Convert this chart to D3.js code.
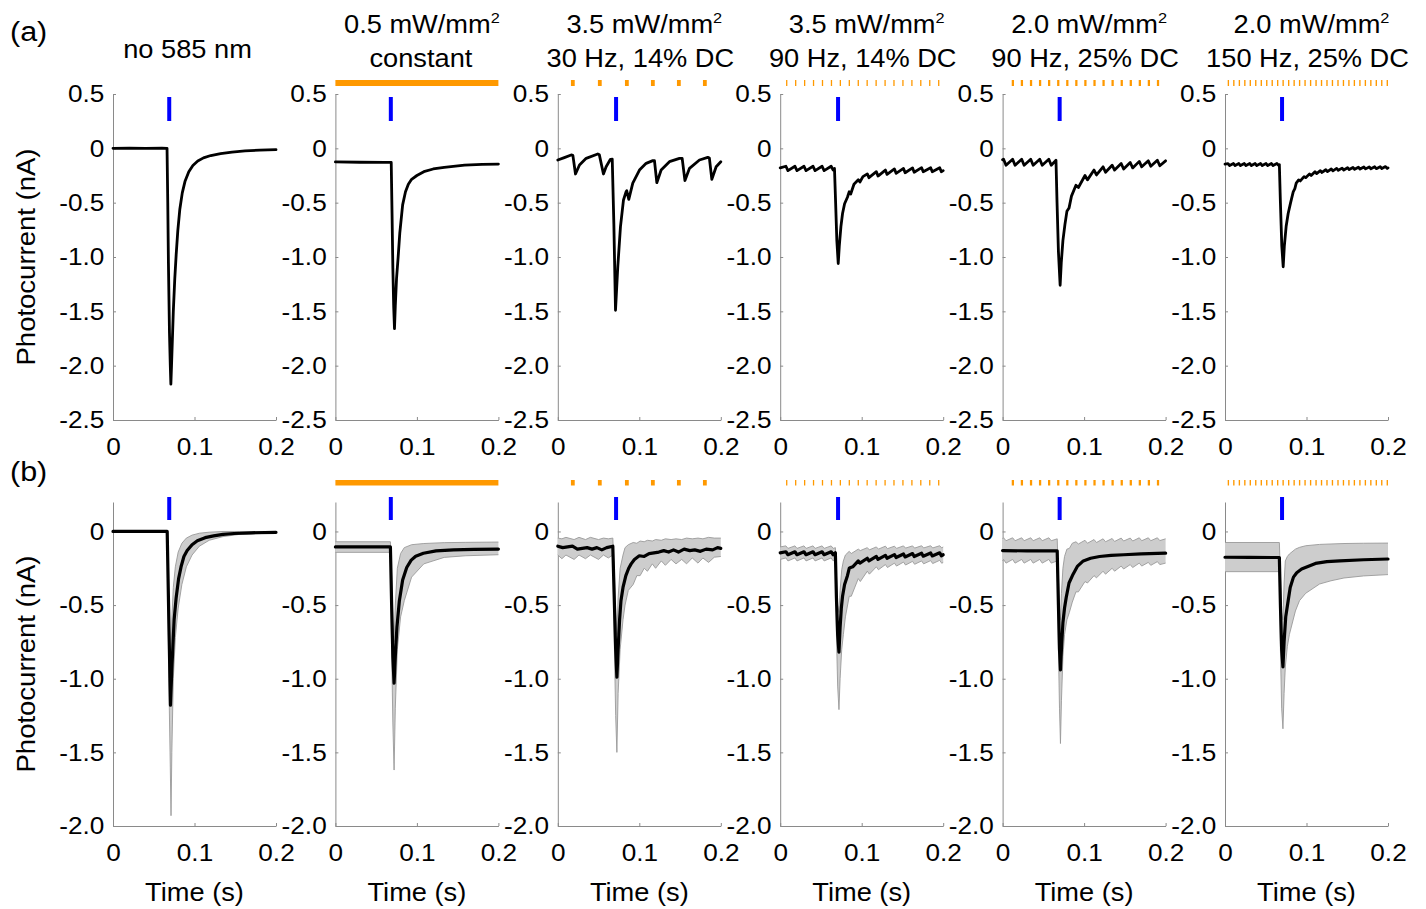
<!DOCTYPE html>
<html><head><meta charset="utf-8">
<script src="https://cdn.jsdelivr.net/npm/d3@7"></script>
<style>body{margin:0;background:#fff} text{font-family:"Liberation Sans",Arial,sans-serif;fill:#000}</style>
</head><body><svg id="c" width="1426" height="909"></svg>
<script>
// ---------------- DATA ----------------
const titleLine1 = ["no 585 nm", "0.5 mW/mm", "3.5 mW/mm", "3.5 mW/mm", "2.0 mW/mm", "2.0 mW/mm"];
const titleSup   = ["", "2", "2", "2", "2", "2"];
const titleLine2 = ["", "constant", "30 Hz, 14% DC", "90 Hz, 14% DC", "90 Hz, 25% DC", "150 Hz, 25% DC"];
const xTicks = [0, 0.1, 0.2];
const xTickLabels = ["0", "0.1", "0.2"];
const topYTicks = [0.5, 0, -0.5, -1, -1.5, -2, -2.5];
const topYLabels = ["0.5", "0", "-0.5", "-1.0", "-1.5", "-2.0", "-2.5"];
const botYTicks = [0, -0.5, -1, -1.5, -2];
const botYLabels = ["0", "-0.5", "-1.0", "-1.5", "-2.0"];
const blueCenter = [0.069, 0.068, 0.0715, 0.0710, 0.0700, 0.0700];
const blueDur = 0.0049;
// orange light: constant [start,end] or pulse starts (s) and pulse duration (s)
const orangeConst = [null, [0, 0.2], null, null, null, null];
const pulses30 = [0.0161, 0.0492, 0.0824, 0.1143, 0.1462, 0.1781];
const pulses90a = [0.0072, 0.0182, 0.0292, 0.0401, 0.0511, 0.0621, 0.0730, 0.0840, 0.0950, 0.1059, 0.1169, 0.1279, 0.1388, 0.1498, 0.1608, 0.1717, 0.1827, 0.1937];
const pulses90b = [0.0112, 0.0223, 0.0335, 0.0446, 0.0557, 0.0669, 0.0780, 0.0891, 0.1002, 0.1114, 0.1225, 0.1336, 0.1448, 0.1559, 0.1670, 0.1781, 0.1893];
const pulses150 = [0.0033, 0.0100, 0.0168, 0.0235, 0.0302, 0.0369, 0.0437, 0.0504, 0.0571, 0.0638, 0.0705, 0.0773, 0.0840, 0.0907, 0.0974, 0.1042, 0.1109, 0.1176, 0.1243, 0.1310, 0.1378, 0.1445, 0.1512, 0.1579, 0.1647, 0.1714, 0.1781, 0.1848, 0.1915, 0.1983];
const orangePulses = [null, null, pulses30, pulses90a, pulses90b, pulses150];
const pulseDur = [0, 0, 0.00467, 0.00156, 0.00278, 0.00167];

// (a) single traces [t (s), current (nA)]
const traceA1 = [[0,0],[0.02,0.002],[0.04,0],[0.06,0.002],[0.0663,0],[0.0672,-0.5],[0.068,-1.05],[0.0693,-1.7],[0.0703,-2.0],[0.071,-2.17],[0.0718,-2.0],[0.074,-1.5],[0.0758,-1.2],[0.0775,-0.98],[0.0795,-0.76],[0.082,-0.56],[0.085,-0.41],[0.0885,-0.3],[0.093,-0.215],[0.098,-0.158],[0.104,-0.117],[0.111,-0.088],[0.12,-0.066],[0.132,-0.048],[0.146,-0.034],[0.162,-0.024],[0.18,-0.016],[0.2,-0.012]];
const traceA2 = [[0,-0.125],[0.03,-0.128],[0.06,-0.13],[0.0685,-0.13],[0.0695,-0.6],[0.0705,-1.1],[0.0715,-1.45],[0.0725,-1.66],[0.0735,-1.45],[0.075,-1.2],[0.077,-1.0],[0.079,-0.78],[0.0825,-0.52],[0.086,-0.4],[0.0895,-0.33],[0.0935,-0.285],[0.1,-0.25],[0.1085,-0.215],[0.12,-0.19],[0.1335,-0.175],[0.1585,-0.155],[0.18,-0.148],[0.2,-0.145]];
const traceA3 = [[0,-0.107],[0.008,-0.085],[0.0164,-0.061],[0.0185,-0.065],[0.0217,-0.236],[0.0266,-0.153],[0.0348,-0.092],[0.049,-0.052],[0.051,-0.06],[0.056,-0.236],[0.0593,-0.169],[0.0646,-0.101],[0.0668,-0.1],[0.0688,-0.7],[0.0708,-1.49],[0.0736,-1.09],[0.0769,-0.72],[0.0806,-0.475],[0.0838,-0.4],[0.0846,-0.39],[0.0871,-0.47],[0.092,-0.32],[0.1002,-0.2],[0.1084,-0.138],[0.1166,-0.113],[0.1186,-0.113],[0.1215,-0.316],[0.1268,-0.2],[0.137,-0.123],[0.1493,-0.092],[0.1526,-0.092],[0.156,-0.297],[0.1616,-0.184],[0.1738,-0.107],[0.184,-0.083],[0.186,-0.09],[0.189,-0.285],[0.1943,-0.169],[0.2,-0.123]];
const traceA4 = [[0,-0.18],[0.007,-0.165],[0.0095,-0.205],[0.0181,-0.165],[0.0206,-0.205],[0.0292,-0.165],[0.0317,-0.205],[0.0403,-0.165],[0.0428,-0.205],[0.0514,-0.165],[0.0539,-0.205],[0.0625,-0.165],[0.065,-0.2],[0.0666,-0.185],[0.068,-0.5],[0.0695,-0.85],[0.0712,-1.06],[0.0725,-0.9],[0.0745,-0.72],[0.0765,-0.6],[0.079,-0.51],[0.0825,-0.45],[0.0847,-0.4],[0.0865,-0.42],[0.0905,-0.33],[0.0958,-0.29],[0.0978,-0.31],[0.1015,-0.26],[0.1069,-0.235],[0.1089,-0.27],[0.118,-0.215],[0.12,-0.255],[0.1291,-0.2],[0.1311,-0.24],[0.1402,-0.19],[0.1422,-0.23],[0.1513,-0.185],[0.1533,-0.225],[0.1624,-0.18],[0.1644,-0.22],[0.1735,-0.178],[0.1755,-0.215],[0.1846,-0.178],[0.1866,-0.215],[0.1957,-0.178],[0.1977,-0.215],[0.2,-0.205]];
const traceA5 = [[0,-0.105],[0.0012,-0.1],[0.0042,-0.155],[0.0123,-0.1],[0.0153,-0.155],[0.0234,-0.1],[0.0264,-0.155],[0.0345,-0.1],[0.0375,-0.155],[0.0456,-0.1],[0.0486,-0.155],[0.0567,-0.1],[0.0597,-0.155],[0.0655,-0.11],[0.0668,-0.5],[0.0685,-0.95],[0.0706,-1.26],[0.072,-1.05],[0.074,-0.85],[0.0765,-0.7],[0.0789,-0.58],[0.0815,-0.55],[0.0845,-0.44],[0.09,-0.34],[0.093,-0.36],[0.1011,-0.25],[0.1041,-0.29],[0.1122,-0.2],[0.1152,-0.245],[0.1233,-0.17],[0.1263,-0.22],[0.1344,-0.155],[0.1374,-0.2],[0.1455,-0.14],[0.1485,-0.19],[0.1566,-0.13],[0.1596,-0.18],[0.1677,-0.12],[0.1707,-0.17],[0.1788,-0.115],[0.1818,-0.165],[0.1899,-0.11],[0.1929,-0.16],[0.2,-0.115]];
const traceA6 = [[0,-0.145],[0.0037,-0.14],[0.0057,-0.158],[0.0104,-0.14],[0.0124,-0.158],[0.017,-0.14],[0.019,-0.158],[0.0237,-0.14],[0.0257,-0.158],[0.0304,-0.14],[0.0324,-0.158],[0.037,-0.14],[0.039,-0.158],[0.0437,-0.14],[0.0457,-0.158],[0.0504,-0.14],[0.0524,-0.158],[0.057,-0.14],[0.059,-0.158],[0.0637,-0.14],[0.0657,-0.155],[0.0667,-0.15],[0.068,-0.5],[0.0697,-0.9],[0.0714,-1.09],[0.0728,-0.9],[0.075,-0.72],[0.0775,-0.6],[0.0805,-0.5],[0.0837,-0.4],[0.0857,-0.37],[0.0874,-0.32],[0.0904,-0.29],[0.0924,-0.3],[0.097,-0.26],[0.099,-0.27],[0.1037,-0.235],[0.1057,-0.25],[0.1104,-0.215],[0.1124,-0.232],[0.117,-0.205],[0.119,-0.222],[0.1237,-0.197],[0.1257,-0.214],[0.1304,-0.19],[0.1324,-0.207],[0.137,-0.185],[0.139,-0.202],[0.1437,-0.182],[0.1457,-0.199],[0.1504,-0.178],[0.1524,-0.195],[0.157,-0.176],[0.159,-0.193],[0.1637,-0.174],[0.1657,-0.191],[0.1704,-0.172],[0.1724,-0.189],[0.177,-0.171],[0.179,-0.188],[0.1837,-0.17],[0.1857,-0.187],[0.1904,-0.169],[0.1924,-0.186],[0.197,-0.168],[0.199,-0.185],[0.2,-0.18]];

// (b) mean traces [t, mean] and bands [t, lower, upper]
const meanB1 = [[0,0],[0.0665,0],[0.0685,-0.6],[0.0705,-1.18],[0.0725,-0.9],[0.075,-0.6],[0.0775,-0.45],[0.0805,-0.32],[0.0835,-0.24],[0.087,-0.17],[0.091,-0.13],[0.097,-0.09],[0.1035,-0.063],[0.113,-0.042],[0.1235,-0.03],[0.135,-0.02],[0.1485,-0.014],[0.17,-0.009],[0.2,-0.006]];
const bandB1 = [[0,-0.005,0.005],[0.0665,-0.005,0.005],[0.0685,-1.0,-0.5],[0.0703,-1.6,-0.85],[0.0712,-1.93,-0.95],[0.0722,-1.5,-0.6],[0.074,-1.0,-0.38],[0.0765,-0.72,-0.24],[0.08,-0.52,-0.14],[0.0845,-0.36,-0.08],[0.09,-0.24,-0.045],[0.097,-0.16,-0.025],[0.106,-0.1,-0.012],[0.118,-0.06,-0.005],[0.135,-0.035,0],[0.155,-0.02,0],[0.2,-0.01,0]];
const meanB2 = [[0,-0.105],[0.03,-0.105],[0.0675,-0.105],[0.069,-0.5],[0.0705,-0.85],[0.072,-1.03],[0.0735,-0.85],[0.0755,-0.65],[0.0785,-0.47],[0.0825,-0.33],[0.0875,-0.245],[0.093,-0.195],[0.0985,-0.168],[0.108,-0.148],[0.1235,-0.132],[0.145,-0.125],[0.17,-0.122],[0.2,-0.12]];
const bandB2 = [[0,-0.142,-0.07],[0.0675,-0.142,-0.07],[0.069,-0.8,-0.3],[0.0705,-1.3,-0.6],[0.072,-1.62,-0.75],[0.0735,-1.2,-0.5],[0.076,-0.8,-0.25],[0.08,-0.58,-0.15],[0.0845,-0.47,-0.11],[0.0935,-0.31,-0.09],[0.1085,-0.22,-0.082],[0.1335,-0.176,-0.076],[0.16,-0.165,-0.074],[0.2,-0.158,-0.072]];
const meanB3 = [[0,-0.1],[0.006,-0.11],[0.012,-0.105],[0.018,-0.1],[0.024,-0.12],[0.03,-0.115],[0.036,-0.11],[0.042,-0.12],[0.048,-0.11],[0.054,-0.125],[0.06,-0.11],[0.0675,-0.1],[0.0695,-0.5],[0.071,-0.8],[0.0725,-0.99],[0.074,-0.8],[0.0758,-0.6],[0.0775,-0.47],[0.08,-0.38],[0.0835,-0.3],[0.087,-0.25],[0.09,-0.22],[0.094,-0.19],[0.1,-0.165],[0.106,-0.17],[0.112,-0.15],[0.118,-0.145],[0.124,-0.14],[0.13,-0.13],[0.136,-0.14],[0.142,-0.125],[0.148,-0.14],[0.155,-0.12],[0.162,-0.13],[0.168,-0.125],[0.175,-0.135],[0.182,-0.12],[0.19,-0.125],[0.196,-0.11],[0.2,-0.115]];
const bandB3 = [[0,-0.16,-0.045],[0.005,-0.185,-0.05],[0.01,-0.16,-0.04],[0.02,-0.19,-0.055],[0.026,-0.16,-0.04],[0.034,-0.185,-0.055],[0.04,-0.16,-0.04],[0.05,-0.19,-0.055],[0.056,-0.16,-0.045],[0.062,-0.18,-0.05],[0.0675,-0.16,-0.045],[0.0695,-0.8,-0.3],[0.071,-1.25,-0.55],[0.0725,-1.5,-0.7],[0.074,-1.1,-0.45],[0.0765,-0.8,-0.25],[0.08,-0.6,-0.16],[0.0825,-0.5,-0.11],[0.0865,-0.4,-0.09],[0.0925,-0.36,-0.075],[0.097,-0.3,-0.08],[0.101,-0.3,-0.065],[0.106,-0.25,-0.07],[0.11,-0.27,-0.06],[0.116,-0.22,-0.065],[0.12,-0.25,-0.055],[0.127,-0.2,-0.06],[0.132,-0.23,-0.05],[0.139,-0.19,-0.055],[0.145,-0.22,-0.05],[0.152,-0.19,-0.055],[0.158,-0.22,-0.045],[0.165,-0.18,-0.05],[0.172,-0.215,-0.045],[0.178,-0.18,-0.05],[0.185,-0.21,-0.04],[0.192,-0.175,-0.045],[0.2,-0.17,-0.045]];
const meanB4 = [[0,-0.145],[0.007,-0.138],[0.0095,-0.158],[0.0181,-0.138],[0.0206,-0.158],[0.0292,-0.138],[0.0317,-0.158],[0.0403,-0.138],[0.0428,-0.158],[0.0514,-0.138],[0.0539,-0.158],[0.0625,-0.138],[0.065,-0.158],[0.0677,-0.145],[0.069,-0.45],[0.0705,-0.7],[0.0721,-0.82],[0.0735,-0.65],[0.075,-0.52],[0.0765,-0.44],[0.079,-0.36],[0.0825,-0.3],[0.0847,-0.25],[0.0865,-0.245],[0.089,-0.24],[0.0958,-0.2],[0.0978,-0.215],[0.1069,-0.182],[0.1089,-0.2],[0.118,-0.17],[0.12,-0.19],[0.1291,-0.162],[0.1311,-0.182],[0.1402,-0.157],[0.1422,-0.177],[0.1513,-0.153],[0.1533,-0.173],[0.1624,-0.15],[0.1644,-0.17],[0.1735,-0.148],[0.1755,-0.168],[0.1846,-0.146],[0.1866,-0.166],[0.1957,-0.145],[0.1977,-0.165],[0.2,-0.158]];
const bandB4 = [[0,-0.19,-0.105],[0.007,-0.18,-0.098],[0.0095,-0.2,-0.115],[0.0181,-0.18,-0.098],[0.0206,-0.2,-0.115],[0.0292,-0.18,-0.098],[0.0317,-0.2,-0.115],[0.0403,-0.18,-0.098],[0.0428,-0.2,-0.115],[0.0514,-0.18,-0.098],[0.0539,-0.2,-0.115],[0.0625,-0.18,-0.098],[0.065,-0.2,-0.115],[0.0677,-0.19,-0.11],[0.069,-0.7,-0.3],[0.0705,-1.05,-0.5],[0.0721,-1.21,-0.55],[0.0735,-1.0,-0.4],[0.0755,-0.8,-0.26],[0.0775,-0.7,-0.2],[0.08,-0.58,-0.16],[0.0847,-0.44,-0.135],[0.0872,-0.44,-0.15],[0.0958,-0.32,-0.12],[0.0983,-0.34,-0.13],[0.1069,-0.27,-0.11],[0.1094,-0.29,-0.125],[0.118,-0.24,-0.105],[0.1205,-0.26,-0.12],[0.1291,-0.225,-0.1],[0.1316,-0.245,-0.117],[0.1402,-0.215,-0.1],[0.1427,-0.235,-0.115],[0.1513,-0.208,-0.098],[0.1538,-0.228,-0.113],[0.1624,-0.203,-0.098],[0.1649,-0.223,-0.113],[0.1735,-0.2,-0.097],[0.176,-0.22,-0.112],[0.1846,-0.198,-0.097],[0.1871,-0.218,-0.112],[0.1957,-0.196,-0.097],[0.1982,-0.216,-0.112],[0.2,-0.21,-0.105]];
const meanB5 = [[0,-0.13],[0.03,-0.132],[0.06,-0.132],[0.067,-0.132],[0.0685,-0.5],[0.0698,-0.8],[0.071,-0.94],[0.0722,-0.8],[0.074,-0.62],[0.076,-0.52],[0.078,-0.45],[0.0815,-0.35],[0.0865,-0.29],[0.092,-0.235],[0.099,-0.2],[0.108,-0.182],[0.119,-0.17],[0.133,-0.163],[0.1485,-0.158],[0.17,-0.152],[0.2,-0.147]];
const bandB5 = [[0,-0.2,-0.05],[0.0012,-0.19,-0.043],[0.0042,-0.215,-0.063],[0.0123,-0.19,-0.043],[0.0153,-0.215,-0.063],[0.0234,-0.19,-0.043],[0.0264,-0.215,-0.063],[0.0345,-0.19,-0.043],[0.0375,-0.215,-0.063],[0.0456,-0.19,-0.043],[0.0486,-0.215,-0.063],[0.0567,-0.19,-0.043],[0.0597,-0.215,-0.063],[0.067,-0.2,-0.05],[0.0685,-0.8,-0.3],[0.0698,-1.2,-0.55],[0.071,-1.44,-0.6],[0.0722,-1.15,-0.42],[0.074,-0.85,-0.25],[0.076,-0.7,-0.17],[0.0789,-0.6,-0.12],[0.0819,-0.55,-0.115],[0.0855,-0.48,-0.08],[0.09,-0.41,-0.07],[0.093,-0.41,-0.085],[0.1011,-0.34,-0.06],[0.1041,-0.35,-0.08],[0.1122,-0.3,-0.055],[0.1152,-0.315,-0.075],[0.1233,-0.27,-0.05],[0.1263,-0.29,-0.07],[0.1344,-0.25,-0.048],[0.1374,-0.27,-0.068],[0.1455,-0.235,-0.045],[0.1485,-0.255,-0.065],[0.1566,-0.225,-0.045],[0.1596,-0.245,-0.065],[0.1677,-0.215,-0.043],[0.1707,-0.235,-0.063],[0.1788,-0.21,-0.043],[0.1818,-0.23,-0.063],[0.1899,-0.205,-0.043],[0.1929,-0.225,-0.062],[0.2,-0.215,-0.05]];
const meanB6 = [[0,-0.175],[0.03,-0.176],[0.0667,-0.177],[0.068,-0.5],[0.0695,-0.8],[0.0711,-0.92],[0.0725,-0.75],[0.0745,-0.58],[0.0775,-0.47],[0.08,-0.38],[0.084,-0.31],[0.088,-0.28],[0.094,-0.255],[0.111,-0.217],[0.125,-0.205],[0.141,-0.2],[0.17,-0.192],[0.2,-0.187]];
const bandB6 = [[0,-0.273,-0.075],[0.0667,-0.273,-0.075],[0.068,-0.8,-0.3],[0.0695,-1.2,-0.55],[0.0711,-1.34,-0.6],[0.0725,-1.1,-0.35],[0.074,-0.92,-0.2],[0.0765,-0.78,-0.17],[0.079,-0.7,-0.153],[0.0864,-0.54,-0.12],[0.0914,-0.47,-0.108],[0.099,-0.42,-0.097],[0.116,-0.357,-0.088],[0.13,-0.335,-0.085],[0.146,-0.316,-0.082],[0.17,-0.302,-0.08],[0.2,-0.293,-0.079]];

const tracesA = [traceA1, traceA2, traceA3, traceA4, traceA5, traceA6];
const meansB = [meanB1, meanB2, meanB3, meanB4, meanB5, meanB6];
const bandsB = [bandB1, bandB2, bandB3, bandB4, bandB5, bandB6];

// ---------------- DRAWING ----------------
const svg = d3.select("#c");
const SX = 1.09;            // horizontal text stretch of the original figure
const AX = "#8a8a8a";
const ORANGE = "#ff9900", BLUE = "#0000ff";
const panelW = 163;
const left = i => 113 + i * 222.4;

const rows = [
  {top: 94, bottom: 420, domain: [-2.5, 0.5], ticks: topYTicks, labels: topYLabels,
   blue: [3, 27], orange: [-14, -8], lines: tracesA, lw: 2.8},
  {top: 502, bottom: 826, domain: [-2, 0.2], ticks: botYTicks, labels: botYLabels,
   blue: [-5, 18], orange: [-22, -16.5], lines: meansB, bands: bandsB, lw: 3.2}
];

rows.forEach((row, r) => {
  for (let i = 0; i < 6; i++) {
    const L = left(i);
    const x = d3.scaleLinear().domain([0, 0.2]).range([L, L + panelW]);
    const y = d3.scaleLinear().domain(row.domain).range([row.bottom, row.top]);
    const g = svg.append("g");

    // axes
    const ay = g.append("g").attr("transform", `translate(${L},0)`)
      .call(d3.axisLeft(y).tickValues(row.ticks).tickFormat((d, k) => row.labels[k])
        .tickSizeInner(-3).tickSizeOuter(0).tickPadding(8));
    const ax = g.append("g").attr("transform", `translate(0,${row.bottom})`)
      .call(d3.axisBottom(x).tickValues(xTicks).tickFormat((d, k) => xTickLabels[k])
        .tickSizeInner(-3).tickSizeOuter(0).tickPadding(18));
    [ay, ax].forEach(a => {
      a.select(".domain").attr("stroke", AX);
      a.selectAll(".tick line").attr("stroke", AX);
      a.selectAll("text").attr("font-size", 24).attr("fill", "#000")
        .attr("font-family", '"Liberation Sans", Arial, sans-serif')
        .attr("transform", `scale(${SX},1)`);
    });

    // band
    if (row.bands) {
      const b = row.bands[i];
      g.append("path").datum(b)
        .attr("d", d3.area().x(d => x(d[0])).y0(d => y(d[1])).y1(d => y(d[2])))
        .attr("fill", "#cdcdcd").attr("stroke", "none");
      [1, 2].forEach(k => g.append("path").datum(b)
        .attr("d", d3.line().x(d => x(d[0])).y(d => y(d[k])))
        .attr("fill", "none").attr("stroke", "#9a9a9a").attr("stroke-width", 0.9));
    }
    // trace
    g.append("path").datum(row.lines[i])
      .attr("d", d3.line().x(d => x(d[0])).y(d => y(d[1])))
      .attr("fill", "none").attr("stroke", "#000").attr("stroke-width", row.lw)
      .attr("stroke-linejoin", "round").attr("stroke-linecap", "round");

    // blue stimulus
    g.append("rect")
      .attr("x", x(blueCenter[i] - blueDur / 2)).attr("width", x(blueDur) - x(0))
      .attr("y", row.top + row.blue[0]).attr("height", row.blue[1] - row.blue[0])
      .attr("fill", BLUE);

    // orange light
    const oy = row.top + row.orange[0], oh = row.orange[1] - row.orange[0];
    if (orangeConst[i]) {
      g.append("rect").attr("x", x(orangeConst[i][0])).attr("width", x(orangeConst[i][1]) - x(orangeConst[i][0]))
        .attr("y", oy).attr("height", oh).attr("fill", ORANGE);
    }
    if (orangePulses[i]) {
      g.selectAll(null).data(orangePulses[i]).join("rect")
        .attr("x", d => x(d)).attr("width", Math.max(x(pulseDur[i]) - x(0), 1.3))
        .attr("y", oy).attr("height", oh).attr("fill", ORANGE);
    }

    // titles (top row only)
    if (r === 0) {
      const cx = L + panelW / 2;
      if (titleLine2[i] === "") {
        svg.append("text").attr("transform", `translate(${cx - 7},58) scale(${SX},1)`)
          .attr("text-anchor", "middle").attr("font-size", 25).text(titleLine1[i]);
      } else {
        const t1 = svg.append("text").attr("transform", `translate(${cx + 5},33) scale(${SX},1)`)
          .attr("text-anchor", "middle").attr("font-size", 25);
        t1.append("tspan").text(titleLine1[i]);
        t1.append("tspan").attr("font-size", 15).attr("dy", -10).text(titleSup[i]);
        svg.append("text").attr("transform", `translate(${cx + (i === 1 ? 4 : 1)},67) scale(${SX},1)`)
          .attr("text-anchor", "middle").attr("font-size", 25).text(titleLine2[i]);
      }
    }
    // x label (bottom row)
    if (r === 1) {
      svg.append("text").attr("transform", `translate(${L + panelW / 2},901) scale(${SX},1)`)
        .attr("text-anchor", "middle").attr("font-size", 25).text("Time (s)");
    }
  }
  // y label
  svg.append("text")
    .attr("transform", `translate(35,${(row.top + row.bottom) / 2}) rotate(-90) scale(1.1,1.05)`)
    .attr("text-anchor", "middle").attr("font-size", 25).text("Photocurrent (nA)");
});

// panel letters
svg.append("text").attr("transform", `translate(10,41) scale(${SX},1)`).attr("font-size", 28).text("(a)");
svg.append("text").attr("transform", `translate(10,481) scale(${SX},1)`).attr("font-size", 28).text("(b)");
</script>
</body></html>
